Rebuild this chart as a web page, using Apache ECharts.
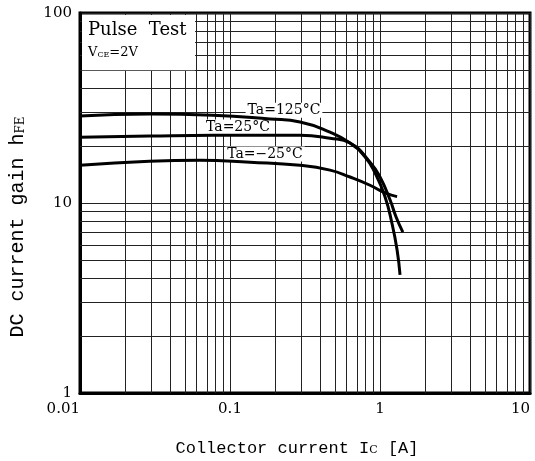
<!DOCTYPE html>
<html>
<head>
<meta charset="utf-8">
<script src="https://cdn.jsdelivr.net/npm/echarts@6/dist/echarts.min.js"></script>
<style>
  html, body { margin: 0; padding: 0; background: #fff; }
  #main { width: 535px; height: 461px; }
</style>
</head>
<body>
<div id="main"></div>
<script>
// collector current Ic [A]
var ic125 = [0.01, 0.029, 0.077, 0.185, 0.293, 0.464, 0.631, 0.794, 0.926, 1.08, 1.20, 1.30, 1.36]
var hfe125 = [28.7, 29.4, 29.0, 27.7, 26.7, 23.6, 20.7, 17.5, 14.4, 10.8, 7.85, 5.66, 4.18]

var ic25 = [0.01, 0.029, 0.077, 0.185, 0.293, 0.464, 0.631, 0.858, 1.0, 1.166, 1.28, 1.42]
var hfe25 = [22.2, 22.5, 22.7, 22.7, 22.7, 21.9, 20.7, 16.4, 13.7, 10.4, 8.44, 7.03]

var icM25 = [0.01, 0.029, 0.063, 0.136, 0.293, 0.464, 0.631, 0.858, 1.08, 1.30]
var hfeM25 = [15.8, 16.6, 16.8, 16.4, 15.8, 14.9, 13.7, 12.4, 11.3, 10.8]

var xTicks = [0.01, 0.1, 1, 10]
var yTicks = [1, 10, 100]
var xMinor = [0.02, 0.03, 0.04, 0.05, 0.06, 0.07, 0.08, 0.09,
              0.2, 0.3, 0.4, 0.5, 0.6, 0.7, 0.8, 0.9,
              2, 3, 4, 5, 6, 7, 8, 9]
var yMinor = [2, 3, 4, 5, 6, 7, 8, 9, 20, 30, 40, 50, 60, 70, 80, 90]

var curveLabels = ['Ta=125°C', 'Ta=25°C', 'Ta=−25°C']
var labelAt = [[0.229, 30.8], [0.113, 25.1], [0.171, 18.1]]
// corners of the "Pulse Test" note box
var noteBox = [[0.01, 100], [0.0585, 50]]

function pairs (xs, ys) {
  return xs.map(function (x, i) { return [x, ys[i]] })
}

var serifFont = '"DejaVu Serif", serif'

function curve (name, xs, ys, idx) {
  return {
    name: name,
    type: 'line',
    z: 5,
    data: pairs(xs, ys),
    smooth: 0.5,
    showSymbol: false,
    lineStyle: { color: '#000', width: 3 },
    markPoint: {
      symbol: 'rect',
      symbolSize: 0,
      data: [{ coord: labelAt[idx], value: name }],
      label: {
        show: true,
        position: 'inside',
        formatter: name,
        color: '#000',
        fontFamily: serifFont,
        fontSize: 14,
        backgroundColor: '#fff',
        padding: [1, 2, 0, 2]
      }
    }
  }
}

var chart = echarts.init(document.getElementById('main'))
var option = {
  animation: false,
  backgroundColor: '#fff',
  grid: {
    left: 80, right: 5, top: 13, bottom: 68,
    outerBoundsMode: 'none',
    containLabel: false,
    show: true, borderColor: '#000', borderWidth: 3
  },
  xAxis: {
    type: 'log',
    logBase: 10,
    min: xTicks[0],
    max: xTicks[xTicks.length - 1],
    axisLine: { show: true, lineStyle: { color: '#000', width: 3 } },
    axisTick: { show: false },
    axisLabel: {
      color: '#000', fontFamily: serifFont, fontSize: 15, margin: 9,
      alignMinLabel: 'right',
      alignMaxLabel: 'right',
      formatter: function (v) { return String(+v.toPrecision(3)) }
    },
    splitLine: { show: true, lineStyle: { color: '#222', width: 1 } }
  },
  yAxis: {
    type: 'log',
    logBase: 10,
    min: yTicks[0],
    max: yTicks[yTicks.length - 1],
    axisLine: { show: true, lineStyle: { color: '#000', width: 3 } },
    axisTick: { show: false },
    axisLabel: {
      color: '#000', fontFamily: serifFont, fontSize: 15, margin: 8,
      formatter: function (v) { return String(+v.toPrecision(3)) }
    },
    splitLine: { show: true, lineStyle: { color: '#222', width: 1 } }
  },
  series: [
    {
      type: 'line',
      data: [],
      z: 2,
      markLine: {
        silent: true,
        symbol: 'none',
        label: { show: false },
        lineStyle: { color: '#222', width: 1, type: 'solid' },
        data: xMinor.map(function (v) { return { xAxis: v } })
          .concat(yMinor.map(function (v) { return { yAxis: v } }))
      }
    },
    curve(curveLabels[0], ic125, hfe125, 0),
    curve(curveLabels[1], ic25, hfe25, 1),
    curve(curveLabels[2], icM25, hfeM25, 2)
  ]
}
chart.setOption(option)

// white note box in the upper left corner, placed through the axes
var p0 = chart.convertToPixel({ gridIndex: 0 }, noteBox[0])
var p1 = chart.convertToPixel({ gridIndex: 0 }, noteBox[1])
chart.setOption({
  graphic: {
    elements: [
      {
        id: 'noteBg', type: 'rect', z: 50,
        shape: { x: p0[0] + 2, y: p0[1] + 2, width: p1[0] - p0[0] - 2, height: p1[1] - p0[1] - 2 },
        style: { fill: '#fff' }
      },
      {
        id: 'pulse', type: 'text', x: p0[0] + 8, y: p0[1] + 8, z: 51,
        style: { text: 'Pulse  Test', fill: '#000', font: '18px "DejaVu Serif", serif' }
      },
      {
        id: 'vce', type: 'text', x: p0[0] + 8, y: p0[1] + 33, z: 51,
        style: {
          text: 'V{s|CE}=2V',
          fill: '#000',
          font: '13px "DejaVu Serif", serif',
          rich: { s: { fontSize: 8, fontFamily: serifFont, padding: [5, 0, 0, 0] } }
        }
      },
      {
        id: 'yName', type: 'text', x: 18, y: 227, rotation: Math.PI / 2, z: 51,
        style: {
          text: 'DC current gain h{s|FE}',
          fill: '#000',
          font: '20px "Liberation Mono", monospace',
          align: 'center',
          verticalAlign: 'middle',
          rich: { s: { fontSize: 12, fontFamily: serifFont, padding: [6, 0, 0, 0] } }
        }
      },
      {
        id: 'xName', type: 'text', x: 297, y: 448, z: 51,
        style: {
          text: 'Collector current I{s|C} [A]',
          fill: '#000',
          font: '17px "Liberation Mono", monospace',
          align: 'center',
          verticalAlign: 'middle',
          rich: { s: { fontSize: 11, fontFamily: serifFont, padding: [4, 0, 0, 0] } }
        }
      }
    ]
  }
})
</script>
</body>
</html>
